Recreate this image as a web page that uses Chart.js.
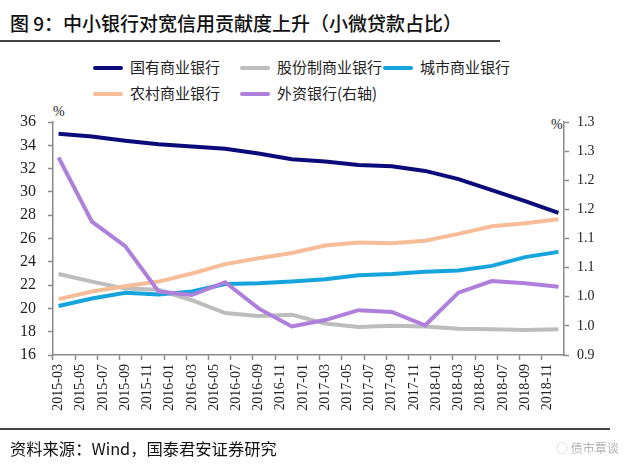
<!DOCTYPE html>
<html>
<head>
<meta charset="utf-8">
<script src="https://cdn.jsdelivr.net/npm/chart.js@4"></script>
<style>
  body { margin: 0; background: #fff; }
  #wrap { position: relative; width: 640px; height: 470px; overflow: hidden; font-family: "Noto Sans CJK SC", sans-serif; }
  #chart { position: absolute; left: 0; top: 0; }
  .title { position: absolute; left: 10px; top: 9px; font-size: 19px; font-weight: 500; color: #111; white-space: nowrap; }
  .rule { position: absolute; left: 0; height: 1.5px; background: #444; }
  .leg { position: absolute; font-size: 15px; color: #222; white-space: nowrap; line-height: 20px; }
  .leg i { display: inline-block; width: 30px; height: 4px; border-radius: 2px; vertical-align: middle; margin-right: 7px; position: relative; top: -1px; }
  .unit { position: absolute; font-family: "Liberation Serif", serif; font-size: 14px; color: #222; }
  .src { position: absolute; left: 10px; top: 436px; font-size: 16.3px; color: #111; white-space: nowrap; }
  .mark { position: absolute; left: 556px; top: 439px; font-size: 12px; color: #b5b5b5; white-space: nowrap; }
</style>
</head>
<body>
<div id="wrap">
  <div class="title">图 9：中小银行对宽信用贡献度上升（小微贷款占比）</div>
  <div class="rule" style="top:40px;width:500px"></div>
  <div id="legend"></div>
  <div class="unit" style="left:53px;top:104px">%</div>
  <div class="unit" style="left:551px;top:117px">%</div>
  <canvas id="chart" width="640" height="470"></canvas>
  <div class="rule" style="top:428px;width:610px"></div>
  <div class="src">资料来源：Wind，国泰君安证券研究</div>
  <div class="mark">◌ 债市覃谈</div>
</div>
<script>
// 月度坐标（每两个月显示一个标签）
const months = [
  '2015-03','2015-04','2015-05','2015-06','2015-07','2015-08','2015-09','2015-10','2015-11','2015-12',
  '2016-01','2016-02','2016-03','2016-04','2016-05','2016-06','2016-07','2016-08','2016-09','2016-10','2016-11','2016-12',
  '2017-01','2017-02','2017-03','2017-04','2017-05','2017-06','2017-07','2017-08','2017-09','2017-10','2017-11','2017-12',
  '2018-01','2018-02','2018-03','2018-04','2018-05','2018-06','2018-07','2018-08','2018-09','2018-10','2018-11','2018-12'
];

// 季度数据点
const quarters = [
  '2015-03','2015-06','2015-09','2015-12','2016-03','2016-06','2016-09','2016-12',
  '2017-03','2017-06','2017-09','2017-12','2018-03','2018-06','2018-09','2018-12'
];

const stateOwned = [35.0, 34.75, 34.4, 34.1, 33.9, 33.7, 33.3, 32.8, 32.6, 32.3, 32.2, 31.8, 31.1, 30.15, 29.2, 28.2];
const jointStock = [22.95, 22.3, 21.7, 21.6, 20.7, 19.6, 19.35, 19.45, 18.7, 18.4, 18.5, 18.45, 18.25, 18.2, 18.15, 18.2];
const cityBank   = [20.2, 20.85, 21.35, 21.2, 21.45, 22.1, 22.15, 22.3, 22.5, 22.85, 22.95, 23.15, 23.25, 23.65, 24.4, 24.85];
const ruralBank  = [20.8, 21.45, 21.9, 22.3, 23.0, 23.8, 24.3, 24.75, 25.4, 25.65, 25.6, 25.8, 26.4, 27.05, 27.3, 27.65];
const foreignBank = [1.239, 1.129, 1.087, 1.009, 1.003, 1.025, 0.980, 0.949, 0.960, 0.977, 0.974, 0.951, 1.007, 1.027, 1.023, 1.017];

const rightTickLabels = ['0.9','1.0','1.0','1.1','1.1','1.2','1.2','1.3','1.3'];

const seriesNames = ['国有商业银行','股份制商业银行','城市商业银行','农村商业银行','外资银行(右轴)'];
const seriesColors = ['#0b0b7a','#bdbdbd','#16a4dc','#f6bd98','#ae80dc'];

function toPoints(values) {
  return quarters.map((q, i) => ({ x: q, y: values[i] }));
}

// HTML 图例
const legendPos = [[93, 57], [240, 57], [383, 57], [93, 83], [240, 83]];
const legendBox = document.getElementById('legend');
seriesNames.forEach((name, i) => {
  const d = document.createElement('div');
  d.className = 'leg';
  d.style.left = legendPos[i][0] + 'px';
  d.style.top = legendPos[i][1] + 'px';
  d.innerHTML = '<i style="background:' + seriesColors[i] + '"></i>' + name;
  legendBox.appendChild(d);
});

const allValues = [stateOwned, jointStock, cityBank, ruralBank, foreignBank];
const axisColor = '#8a8a8a';
const tickFont = { family: 'Liberation Serif', size: 16 };

new Chart(document.getElementById('chart').getContext('2d'), {
  type: 'line',
  data: {
    labels: months,
    datasets: allValues.map((vals, i) => ({
      label: seriesNames[i],
      data: toPoints(vals),
      borderColor: seriesColors[i],
      backgroundColor: seriesColors[i],
      borderWidth: 4,
      pointRadius: 0,
      tension: 0,
      yAxisID: i === 4 ? 'y2' : 'y',
      order: 5 - i
    }))
  },
  options: {
    responsive: false,
    animation: false,
    layout: { padding: { top: 122, left: 0, right: 0, bottom: 0 } },
    plugins: { legend: { display: false }, tooltip: { enabled: false } },
    scales: {
      x: {
        type: 'category',
        offset: true,
        grid: {
          offset: true,
          drawOnChartArea: false,
          tickLength: 5,
          tickWidth: 1.5,
          tickColor: ctx => (ctx.index % 2 === 0 ? axisColor : 'rgba(0,0,0,0)')
        },
        border: { color: axisColor, width: 1.5 },
        ticks: {
          autoSkip: false,
          maxRotation: 90,
          minRotation: 90,
          padding: 4,
          color: '#222',
          font: { family: 'Liberation Serif', size: 14 },
          callback: (v, i) => (i % 2 === 0 ? months[i] : '')
        },
        afterFit: s => { s.height = 115; }
      },
      y: {
        position: 'left',
        min: 16,
        max: 36,
        grid: { drawOnChartArea: false, tickLength: 5, tickWidth: 1.5, tickColor: axisColor },
        border: { color: axisColor, width: 1.5 },
        ticks: { stepSize: 2, padding: 12, color: '#222', font: tickFont },
        afterFit: s => { s.width = 53; }
      },
      y2: {
        position: 'right',
        min: 0.9,
        max: 1.3,
        grid: { drawOnChartArea: false, tickLength: 5, tickWidth: 1.5, tickColor: axisColor },
        border: { color: axisColor, width: 1.5 },
        ticks: {
          stepSize: 0.05,
          padding: 8,
          color: '#222',
          font: { family: 'Liberation Serif', size: 14 },
          callback: (v, i) => rightTickLabels[i]
        },
        afterFit: s => { s.width = 76; }
      }
    }
  }
});
</script>
</body>
</html>
